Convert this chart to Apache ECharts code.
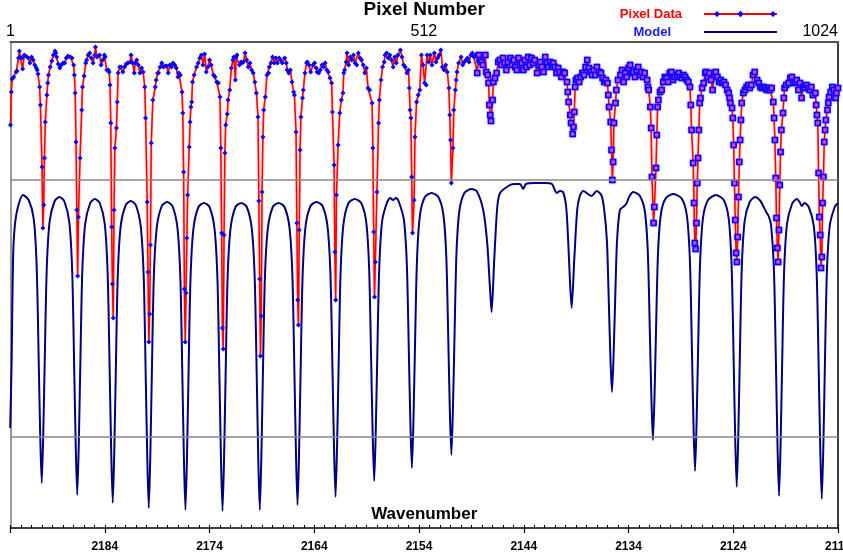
<!DOCTYPE html>
<html>
<head>
<meta charset="utf-8">
<script src="https://cdn.jsdelivr.net/npm/echarts@6/dist/echarts.min.js"></script>
<style>html,body{margin:0;padding:0;background:#fff}#c{width:843px;height:557px}</style>
</head>
<body>
<div id="c"></div>
<script>
// Wavenumber axis (bottom, decreasing to the right) and pixel axis (top)
const wavenumberTicks = [2184, 2174, 2164, 2154, 2144, 2134, 2124, 2114];
const pixelTicks = [1, 512, 1024];

// Pixel data, first part (diamond markers): [pixel, intensity]
const pixelDataA = [
[1,403],[2,436],[3,449],[5,451],[8,456],[9,457],[11,470],[12,477],[13,471],[15,470],[16,459],[18,473],[20,472],[23,470],[25,465],[27,471],[29,468],[31,463],[33,460],[34,458],[35,454],[37,441],[38,423],[40,361],[41,300],[42,323],[43,370],[44,406],[46,433],[47,445],[48,453],[50,461],[52,467],[54,473],[56,477],[57,475],[58,471],[60,464],[62,460],[64,463],[66,465],[68,465],[70,470],[72,472],[75,471],[77,470],[79,463],[80,453],[81,435],[82,386],[83,318],[84,252],[85,311],[87,370],[89,418],[90,441],[92,452],[94,465],[95,468],[97,473],[99,475],[101,470],[103,465],[105,473],[106,481],[108,471],[111,473],[113,463],[115,468],[117,473],[118,471],[120,458],[122,458],[123,456],[124,443],[125,405],[126,301],[127,244],[128,210],[129,318],[130,380],[132,400],[133,426],[134,455],[136,461],[138,461],[140,456],[142,461],[144,464],[146,465],[149,466],[150,473],[152,465],[154,455],[155,465],[157,468],[159,463],[161,455],[163,460],[165,456],[167,441],[168,410],[170,326],[171,256],[172,186],[173,214],[174,283],[175,385],[177,428],[180,441],[181,448],[183,455],[184,455],[186,461],[188,465],[190,461],[192,462],[194,462],[196,455],[198,463],[200,461],[202,465],[204,463],[206,460],[208,451],[209,455],[211,453],[213,436],[214,415],[215,356],[216,239],[217,186],[218,235],[219,290],[220,333],[222,381],[223,406],[224,421],[225,426],[226,446],[228,453],[231,461],[233,465],[235,470],[237,473],[239,463],[241,474],[243,456],[245,461],[247,468],[249,463],[252,453],[254,451],[256,446],[258,445],[260,431],[261,380],[262,295],[263,200],[264,179],[265,293],[266,375],[267,403],[269,414],[270,428],[272,438],[274,460],[276,468],[277,471],[279,448],[280,471],[281,473],[284,463],[286,466],[287,465],[289,466],[291,475],[293,468],[295,461],[297,465],[299,458],[301,455],[303,446],[305,435],[307,411],[308,327],[309,249],[310,172],[311,212],[312,336],[313,391],[314,418],[316,431],[318,453],[320,455],[321,461],[323,465],[325,471],[327,465],[329,470],[331,465],[333,470],[335,468],[337,465],[340,470],[342,465],[343,458],[345,455],[347,458],[349,446],[351,436],[352,433],[354,396],[355,305],[356,228],[357,203],[358,298],[359,378],[360,411],[362,430],[363,438],[365,455],[367,465],[368,466],[370,463],[372,456],[375,463],[377,465],[379,460],[380,456],[382,455],[384,458],[386,463],[388,461],[390,465],[392,458],[394,456],[396,450],[398,445],[399,416],[401,363],[402,276],[403,228],[404,333],[406,383],[408,415],[410,428],[412,435],[413,455],[414,458],[416,466],[417,475],[419,463],[421,471],[423,468],[425,473],[427,465],[429,463],[431,475],[433,470],[435,468],[437,463],[439,455],[441,460],[443,440],[445,438],[448,425],[449,380],[450,296],[451,231],[452,266],[454,336],[456,405],[457,428],[459,448],[461,461],[463,466],[464,473],[466,475],[468,470],[470,473],[472,468],[474,461],[476,471],[478,465],[480,473],[483,478],[485,471],[487,463],[489,461],[491,455],[493,458],[494,440],[495,418],[496,410],[497,351],[498,295],[500,328],[501,391],[503,426],[505,433],[507,438],[509,473],[511,463],[513,445],[515,443],[516,473],[518,466],[520,473],[522,463],[525,475],[527,466],[529,470],[531,473],[533,478],[535,461],[537,458],[539,463],[541,456],[543,440],[544,413],[545,388],[546,345],[548,380],[549,418],[551,438],[552,448],[553,456],[555,465],[558,471],[560,463],[562,466],[564,468],[566,470],[568,466],[570,473],[572,475],[574,471],[576,473],[578,455]
];

// Pixel data, second part (square markers): [pixel, intensity]
const pixelDataB = [
[578,455],[580,473],[581,468],[583,466],[585,463],[588,473],[589,456],[591,453],[592,445],[593,423],[594,413],[595,407],[597,428],[598,446],[600,450],[602,455],[604,466],[606,468],[608,463],[610,470],[612,465],[614,458],[616,466],[619,470],[621,463],[623,468],[625,461],[627,458],[629,470],[631,463],[633,465],[635,458],[637,468],[639,461],[641,471],[643,463],[645,470],[647,465],[649,468],[652,455],[654,463],[656,466],[658,461],[660,456],[662,471],[664,465],[666,461],[668,466],[670,463],[672,465],[674,461],[676,455],[678,460],[680,456],[682,451],[684,456],[686,455],[689,446],[690,436],[691,426],[693,413],[694,405],[696,394],[697,401],[698,416],[699,441],[700,448],[702,450],[704,446],[706,451],[708,455],[710,453],[712,461],[714,468],[716,460],[718,456],[720,453],[722,458],[724,453],[726,461],[729,456],[731,455],[733,450],[735,446],[737,448],[739,445],[740,433],[741,421],[743,406],[744,378],[745,348],[746,366],[747,405],[749,425],[750,438],[752,448],[755,453],[757,458],[759,446],[761,455],[763,451],[765,460],[767,463],[769,455],[771,456],[773,451],[775,458],[777,461],[779,453],[781,456],[783,451],[785,455],[788,448],[789,441],[790,438],[792,421],[793,400],[794,351],[796,305],[797,321],[799,360],[800,393],[801,421],[802,428],[804,436],[806,438],[808,446],[810,451],[812,450],[814,446],[816,455],[818,456],[820,448],[822,451],[825,453],[827,455],[829,451],[831,450],[833,453],[835,451],[837,448],[839,446],[841,441],[842,423],[843,398],[845,365],[846,325],[847,285],[848,279],[849,305],[850,345],[851,370],[852,398],[853,425],[854,430],[856,440],[858,445],[860,455],[861,456],[863,451],[865,455],[867,448],[869,438],[871,455],[873,456],[875,451],[877,446],[879,448],[881,445],[883,446],[885,443],[887,438],[889,435],[890,430],[891,425],[893,420],[894,410],[895,383],[896,345],[897,308],[898,275],[899,266],[900,291],[901,331],[902,366],[903,388],[904,408],[905,425],[907,435],[909,438],[911,441],[913,443],[915,440],[917,443],[919,453],[921,456],[924,448],[926,445],[928,441],[930,440],[932,441],[934,440],[936,438],[938,440],[940,438],[942,440],[944,426],[945,410],[946,388],[947,350],[948,310],[949,280],[950,266],[951,298],[952,343],[953,376],[954,398],[956,415],[957,430],[958,440],[960,443],[963,445],[965,450],[967,451],[969,445],[971,446],[973,448],[975,438],[977,445],[979,430],[981,441],[983,440],[985,443],[987,440],[989,438],[991,441],[993,433],[996,435],[997,423],[998,413],[999,405],[1000,355],[1001,311],[1002,293],[1003,260],[1004,271],[1005,325],[1006,351],[1007,386],[1008,398],[1009,408],[1011,418],[1012,425],[1013,431],[1015,436],[1017,441],[1019,438],[1021,430],[1022,435],[1024,440]
];

// Model spectrum: [wavenumber, intensity]
const modelData = [
[2193.03,100],[2192.89,168],[2192.76,268],[2192.60,301],[2192.29,321],[2191.81,333],
[2191.26,328],[2190.78,309],[2190.50,261],[2190.31,169],[2190.16,91],[2190.02,45],[2189.88,91],[2189.73,168],[2189.54,259],[2189.26,307],[2188.78,327],
[2188.33,331],
[2187.87,327],[2187.39,306],[2187.11,257],[2186.92,161],[2186.77,81],[2186.63,33],[2186.49,80],[2186.34,160],[2186.15,255],[2185.87,304],[2185.39,325],
[2184.94,329],
[2184.48,325],[2184.00,304],[2183.72,253],[2183.53,156],[2183.38,74],[2183.24,25],[2183.10,73],[2182.95,155],[2182.76,252],[2182.48,302],[2182.00,323],
[2181.52,327],
[2181.04,323],[2180.56,301],[2180.28,250],[2180.09,152],[2179.94,69],[2179.80,20],[2179.66,69],[2179.51,152],[2179.32,250],[2179.04,300],[2178.56,322],
[2178.05,326],
[2177.54,322],[2177.06,300],[2176.78,249],[2176.59,150],[2176.44,67],[2176.30,18],[2176.16,67],[2176.01,150],[2175.82,248],[2175.54,299],[2175.06,321],
[2174.53,325],
[2174.00,321],[2173.52,299],[2173.24,248],[2173.05,149],[2172.90,66],[2172.76,17],[2172.62,66],[2172.47,149],[2172.28,248],[2172.00,299],[2171.52,321],
[2170.98,325],
[2170.44,321],[2169.96,299],[2169.68,248],[2169.49,150],[2169.34,67],[2169.20,18],[2169.06,67],[2168.91,150],[2168.72,248],[2168.44,299],[2167.96,321],
[2167.40,325],
[2166.84,321],[2166.36,300],[2166.08,250],[2165.89,153],[2165.74,71],[2165.60,23],[2165.46,71],[2165.31,153],[2165.12,250],[2164.84,301],[2164.36,322],
[2163.79,326],
[2163.21,322],[2162.73,301],[2162.45,252],[2162.26,158],[2162.11,78],[2161.97,31],[2161.83,79],[2161.68,159],[2161.49,255],[2161.21,304],[2160.73,325],
[2160.13,329],
[2159.52,325],[2159.04,306],[2158.76,259],[2158.57,168],[2158.42,92],[2158.28,47],[2158.14,92],[2157.99,169],[2157.80,259],[2157.52,307],[2157.04,326],
[2156.75,330],[2156.48,328],[2156.20,330],
[2155.92,326],[2155.44,308],[2155.16,263],[2154.97,176],[2154.82,103],[2154.68,60],[2154.54,104],[2154.39,178],[2154.20,266],[2153.92,312],[2153.44,331],
[2152.80,335],
[2152.15,331],[2151.67,313],[2151.39,270],[2151.20,186],[2151.05,115],[2150.91,73],[2150.77,116],[2150.62,187],[2150.43,273],[2150.15,317],[2149.67,335],
[2148.99,339],
[2148.50,337],[2147.87,318],[2147.49,285],[2147.23,241],[2147.07,216],[2146.82,268],[2146.53,321],[2146.26,335],
[2145.31,343],[2144.83,344],[2144.36,344],[2144.05,339],[2143.79,344],[2142.93,345],[2141.98,345],[2141.31,344],[2140.86,335],[2140.54,337],
[2140.25,336],[2139.96,322],[2139.78,292],[2139.59,247],[2139.43,220],[2139.18,268],[2138.90,318],[2138.65,332],[2138.32,337],
[2137.52,332],[2137.04,337],
[2136.60,333],[2136.34,320],[2136.06,287],[2135.87,222],[2135.72,168],[2135.58,136],[2135.44,168],[2135.29,222],[2135.10,286],[2134.82,318],[2134.40,322],[2134.17,325],[2133.95,331],[2133.55,336],
[2132.91,332],[2132.43,316],[2132.15,274],[2131.96,195],[2131.81,128],[2131.67,88],[2131.53,127],[2131.38,194],[2131.19,273],[2130.91,314],[2130.43,330],
[2129.70,334],
[2128.89,329],[2128.41,311],[2128.13,265],[2127.94,176],[2127.79,101],[2127.65,57],[2127.51,101],[2127.36,176],[2127.17,264],[2126.89,310],[2126.41,328],
[2125.66,333],
[2124.91,328],[2124.43,309],[2124.15,260],[2123.96,167],[2123.81,88],[2123.67,41],[2123.53,87],[2123.38,166],[2123.19,259],[2122.91,307],[2122.43,326],
[2121.92,331],[2121.40,327],[2121.05,320],[2120.80,315],[2120.62,312],
[2120.39,303],[2120.11,256],[2119.92,161],[2119.77,80],[2119.63,32],[2119.49,80],[2119.34,160],[2119.15,255],[2118.87,304],[2118.39,324],
[2117.94,329],[2117.66,326],[2117.46,322],[2117.20,325],
[2116.79,321],[2116.31,302],[2116.03,253],[2115.84,158],[2115.69,77],[2115.55,29],[2115.41,77],[2115.26,158],[2115.07,253],[2114.79,302],[2114.31,321],[2114.00,325]
];

// Reference levels (grey horizontal lines)
const referenceLevels = [91, 348];

const FONT = "'Liberation Sans', Arial, Helvetica, sans-serif";
const chart = echarts.init(document.getElementById('c'), null, {renderer: 'canvas'});

const legendBase = {
  orient: 'vertical',
  align: 'right',
  right: 65,
  top: 7.5,
  padding: 0,
  itemWidth: 73,
  itemHeight: 8,
  itemGap: 5,
  selectedMode: false,
  textStyle: {fontFamily: FONT, fontSize: 13, fontWeight: 'bold'}
};

chart.setOption({
  animation: false,
  backgroundColor: '#ffffff',
  textStyle: {fontFamily: FONT},
  grid: {left: 10.5, right: 5, top: 42, bottom: 29, containLabel: false, outerBoundsMode: 'none'},
  legend: [
    Object.assign({}, legendBase, {
      data: [
        {name: 'Pixel Data', textStyle: {color: '#ff0000', padding: [0, 17, 0, 0]}},
        {name: 'Model', textStyle: {color: '#1a1aff', padding: [0, 28, 0, 0]}, itemStyle: {opacity: 0}}
      ]
    }),
    Object.assign({}, legendBase, {
      data: [
        {name: 'Pixel Data', textStyle: {color: 'rgba(0,0,0,0)', padding: [0, 17, 0, 0]},
         icon: 'path://M0,0L0.01,0M0,8L0.01,8M73,0L72.99,0M73,8L72.99,8M12,1L15,4L12,7L9,4ZM68,1L71,4L68,7L65,4Z',
         itemStyle: {color: '#0000ff', borderWidth: 0}}
      ]
    })
  ],
  xAxis: [
    {
      type: 'value', position: 'bottom', inverse: true,
      min: 2114, max: 2193, interval: 10,
      name: 'Wavenumber', nameLocation: 'middle', nameGap: -22,
      nameTextStyle: {fontFamily: FONT, fontSize: 17, fontWeight: 'bold', color: '#000'},
      axisLine: {show: true, lineStyle: {color: '#000', width: 1.5}},
      axisTick: {show: true, inside: false, length: 5, lineStyle: {color: '#000', width: 1.2}},
      axisLabel: {show: true, margin: 13, fontFamily: FONT, fontSize: 12, fontWeight: 'bold', color: '#000',
        customValues: wavenumberTicks, formatter: v => String(Math.round(v))},
      splitLine: {show: false}
    },
    {
      type: 'value', position: 'bottom', inverse: true,
      min: 2114, max: 2193, interval: 1,
      axisLine: {show: false},
      axisTick: {show: true, inside: true, length: 3, lineStyle: {color: '#000', width: 1}},
      axisLabel: {show: false},
      splitLine: {show: false}
    },
    {
      type: 'value', position: 'top',
      min: 1, max: 1024,
      name: 'Pixel Number', nameLocation: 'middle', nameGap: 18,
      nameTextStyle: {fontFamily: FONT, fontSize: 19, fontWeight: 'bold', color: '#000'},
      axisLine: {show: true, lineStyle: {color: '#555', width: 2}},
      axisTick: {show: false},
      axisLabel: {show: true, margin: 2, fontFamily: FONT, fontSize: 16, color: '#000',
        customValues: pixelTicks, alignMaxLabel: 'right', formatter: v => String(Math.round(v))},
      splitLine: {show: false}
    }
  ],
  yAxis: [
    {
      type: 'value', position: 'left', min: 0, max: 486,
      axisLine: {show: true, lineStyle: {color: '#999', width: 2}},
      axisTick: {show: false}, axisLabel: {show: false}, splitLine: {show: false}
    },
    {
      type: 'value', position: 'right', min: 0, max: 486,
      axisLine: {show: true, lineStyle: {color: '#000', width: 1.5}},
      axisTick: {show: false}, axisLabel: {show: false}, splitLine: {show: false}
    }
  ],
  series: [
    {
      name: 'Model', type: 'line', xAxisIndex: 0, yAxisIndex: 0,
      data: modelData, symbol: 'none', showSymbol: false, smooth: 0.25,
      lineStyle: {color: '#000080', width: 2},
      itemStyle: {color: '#000080'},
      markLine: {
        silent: true, symbol: ['none', 'none'], label: {show: false},
        lineStyle: {color: '#888', type: 'solid', width: 1.5},
        data: referenceLevels.map(v => ({yAxis: v}))
      },
      z: 2
    },
    {
      name: 'Pixel Data', type: 'line', xAxisIndex: 2, yAxisIndex: 0,
      data: pixelDataA, symbol: 'diamond', symbolSize: 5, showAllSymbol: true,
      lineStyle: {color: '#ff0000', width: 1.5, shadowBlur: 2, shadowColor: 'rgba(255,0,0,0.5)'},
      itemStyle: {color: '#0000ff'},
      z: 3
    },
    {
      name: 'Pixel Data', type: 'line', xAxisIndex: 2, yAxisIndex: 0,
      data: pixelDataB, symbol: 'rect', symbolSize: 5, showAllSymbol: true,
      lineStyle: {color: '#ff0000', width: 1.5, shadowBlur: 2, shadowColor: 'rgba(255,0,0,0.5)'},
      itemStyle: {color: '#ff40ff', borderColor: '#0000ff', borderWidth: 1.5, shadowBlur: 2, shadowColor: 'rgba(60,60,255,0.6)'},
      z: 3
    }
  ]
});
</script>
</body>
</html>
